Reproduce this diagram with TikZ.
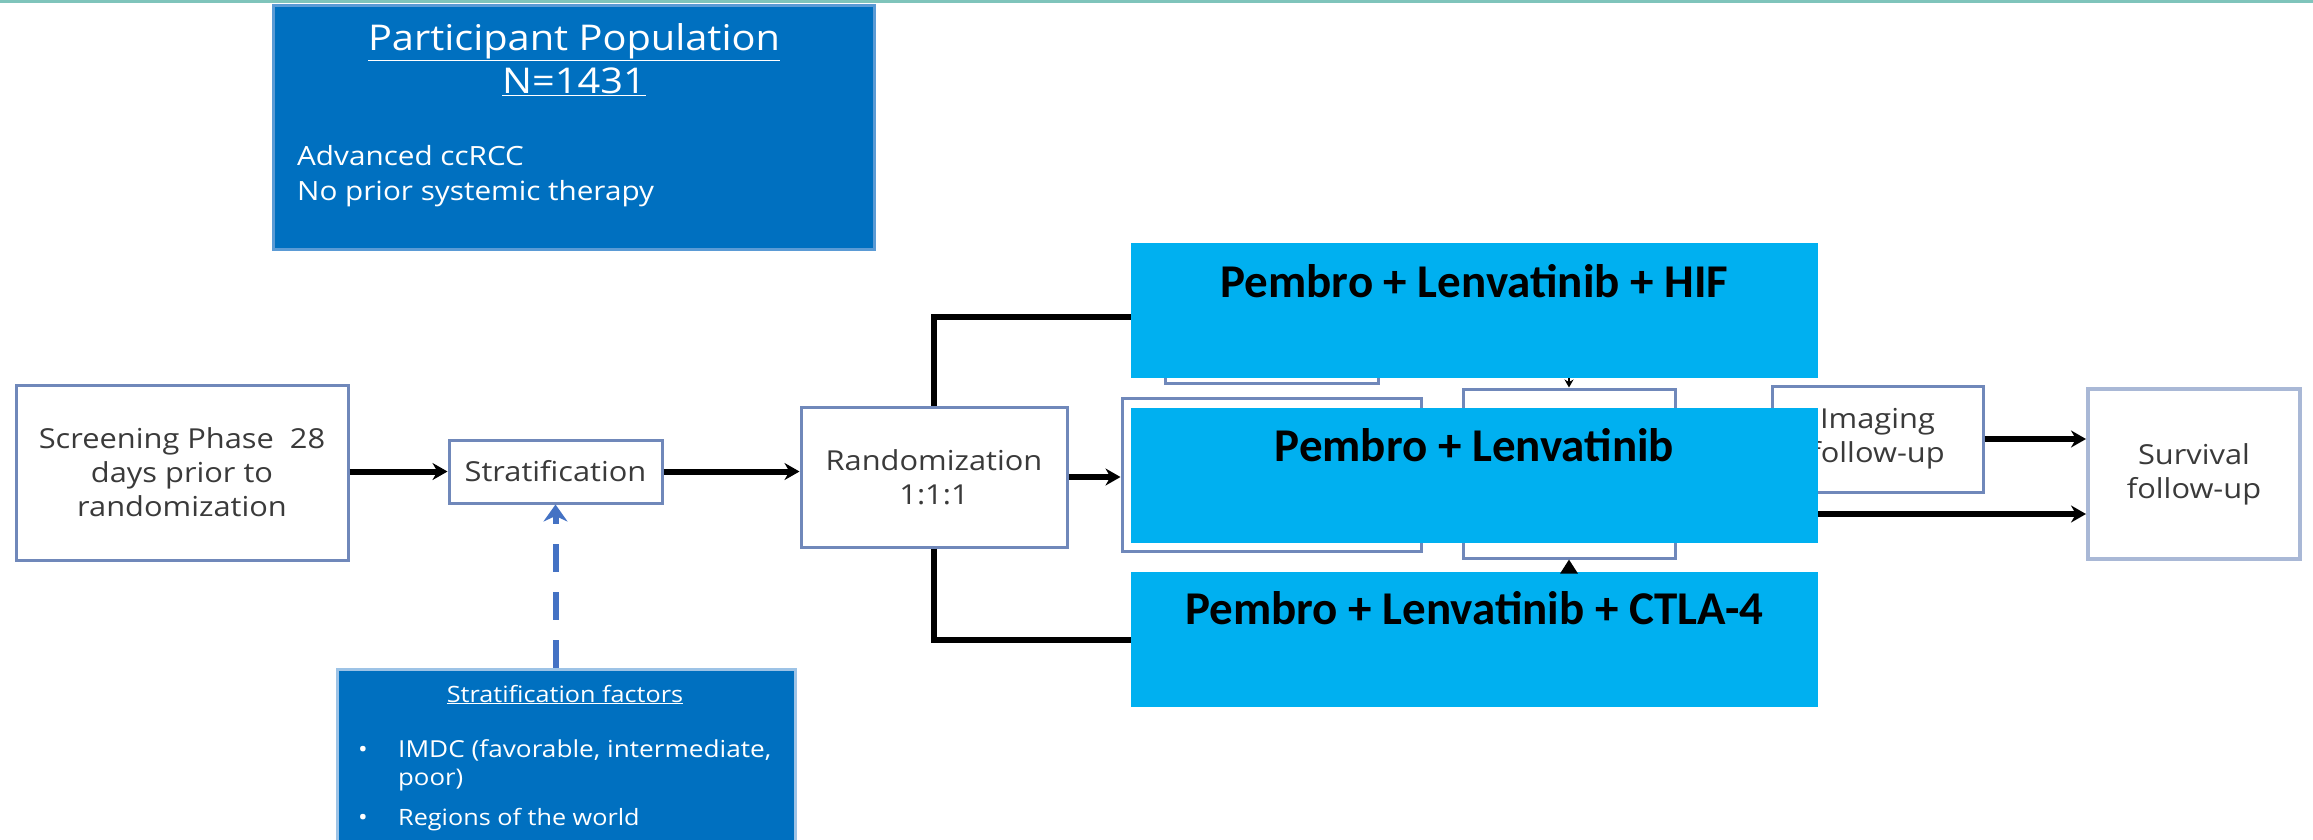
\documentclass[tikz,border=0pt]{standalone}
\usepackage{fontspec}
\setmainfont{Open Sans}[FakeStretch=1.12]
\newfontfamily\armfont{Carlito}
\usepackage{tikz}
\usetikzlibrary{arrows.meta}
\definecolor{popblue}{HTML}{0070C0}
\definecolor{popedge}{HTML}{5B9BD5}
\definecolor{factedge}{HTML}{9DC3E6}
\definecolor{boxedge}{HTML}{7088BA}
\definecolor{armcyan}{HTML}{00B0F0}
\definecolor{dashblue}{HTML}{4472C4}
\definecolor{topline}{HTML}{7FC4BB}
\definecolor{boxtext}{HTML}{3A3A3A}

\begin{document}
\begin{tikzpicture}[x=1pt,y=-1pt,>={Stealth[length=15pt,width=17pt]},
  box/.style={draw=boxedge,line width=3pt,fill=white,text=boxtext,align=center,inner sep=0pt,font=\fontsize{27.5}{34}\selectfont},
  bluebox/.style={line width=3pt,fill=popblue,inner sep=0pt},
  bluetext/.style={text=white,anchor=base,inner sep=0pt},
  arm/.style={fill=armcyan,minimum width=687pt,minimum height=135pt,inner sep=0pt},
  armtext/.style={anchor=base,inner sep=0pt,font=\armfont\bfseries\fontsize{47}{56}\selectfont},
  arr/.style={->,line width=6pt},
  link/.style={line width=6pt},
  dasharr/.style={-{Stealth[length=17pt,width=24pt]},dashblue,line width=6pt,dash pattern=on 28pt off 20pt}]
\clip (0,0) rectangle (2313,839);
\fill[white] (0,0) rectangle (2313,839);\fill[topline] (0,0) rectangle (2313,3);

\node[bluebox,draw=popedge,minimum width=601pt,minimum height=244pt] (pop) at (573.5,127) {};
\node[bluetext,font=\fontsize{35.5}{40}\selectfont] (poptitle) at (574,50) {\underline{Participant Population}};
\node[bluetext,font=\fontsize{35.5}{40}\selectfont] (popn) at (574,93) {\underline{N=1431}};
\node[bluetext,anchor=base west,font=\fontsize{26.5}{30}\selectfont] (popa) at (297,165) {Advanced ccRCC};
\node[bluetext,anchor=base west,font=\fontsize{26.5}{30}\selectfont] (popb) at (297,200) {No prior systemic therapy};

\node[box,minimum width=332pt,minimum height=175pt] (screen) at (182,472.5) {Screening Phase~~28\\days prior to\\randomization};
\node[box,minimum width=213pt,minimum height=63pt] (strat) at (555.5,471.5) {Stratification};
\node[box,minimum width=266pt,minimum height=140pt] (rand) at (934,477) {Randomization\\1:1:1};
\node[box,minimum width=213pt,minimum height=133pt] (armA) at (1271.5,316.5) {};
\node[box,minimum width=299pt,minimum height=153pt] (armB) at (1271.5,474.5) {};
\node[box,minimum width=212pt,minimum height=169pt] (midcol) at (1569,473.5) {};
\node[box,minimum width=211pt,minimum height=106pt] (imaging) at (1877.5,439) {Imaging\\follow-up};
\node[box,draw=boxedge!60,line width=4pt,minimum width=212pt,minimum height=170pt] (surv) at (2194,474) {Survival\\follow-up};

\node[bluebox,draw=factedge,minimum width=458pt,minimum height=191pt] (factors) at (566,764.5) {};
\node[bluetext,font=\fontsize{22.5}{26}\selectfont] (facttitle) at (565,702) {\underline{Stratification factors}};
\node[bluetext,font=\fontsize{23}{26}\selectfont] at (363,757) {\textbullet};
\node[bluetext,anchor=base west,font=\fontsize{23.4}{26}\selectfont] (facta) at (398,757) {IMDC (favorable, intermediate,};
\node[bluetext,anchor=base west,font=\fontsize{23}{26}\selectfont] (factb) at (398,785) {poor)};
\node[bluetext,font=\fontsize{23}{26}\selectfont] at (363,825) {\textbullet};
\node[bluetext,anchor=base west,font=\fontsize{22.5}{26}\selectfont] (factc) at (398,825) {Regions of the world};

\draw[arr] (screen.east|-strat) -- (strat.west);
\draw[arr] (strat.east) -- (strat.east-|rand.west);
\draw[dasharr] (factors.north-|strat.south) -- (strat.south);
\draw[link] (rand.north) |- (armA.west);
\draw[arr] (rand.east) -- (rand.east-|armB.west);

\node[arm] (hif) at (1474.5,310.5) {};
\node[arm] (pl) at (1474.5,475.5) {};
\node[arm] (ctla) at (1474.5,639.5) {};
\draw[link] (rand.south) |- (ctla.west);
\node[armtext] at ([yshift=-55pt]hif.north) {Pembro + Lenvatinib + HIF};
\node[armtext] at ([yshift=-54pt]pl.north) {Pembro + Lenvatinib};
\node[armtext] at ([yshift=-53pt]ctla.north) {Pembro + Lenvatinib + CTLA-4};

\draw[-{Stealth[length=8pt,width=9pt]},line width=2pt] (hif.south-|midcol.north) -- (midcol.north);
\draw[-{Triangle[length=14pt,width=17pt]},line width=3pt] (ctla.north-|midcol.south) -- (midcol.south);
\draw[arr] (imaging.east) -- (imaging.east-|surv.west);
\draw[arr] ([yshift=-38.5pt]pl.east) -- ([yshift=-38.5pt]pl.east-|surv.west);
\end{tikzpicture}
\end{document}
